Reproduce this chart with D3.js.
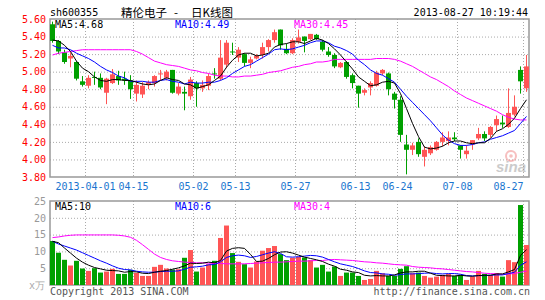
<!DOCTYPE html>
<html lang="zh">
<head>
<meta charset="UTF-8">
<title>精伦电子 - 日K线图</title>
<script src="https://cdn.jsdelivr.net/npm/d3@7"></script>
<style>
    body { margin: 0; background: #fff; }
    svg { display: block; font-family: "DejaVu Sans Mono", monospace; font-size: 10px; }
    .grid line { stroke: #aaa; stroke-dasharray: 1,2; }
    .cjk { font-family: "Noto Sans CJK SC", sans-serif; font-size: 11.5px; }
</style>
</head>
<body>
<svg width="545" height="300"></svg>
<script>
// daily candles, sh600355
const opens = [5.54,5.35,5.22,5.15,5.11,4.89,4.84,4.94,4.93,4.76,
    4.87,4.95,4.92,4.90,4.75,4.74,4.85,4.87,4.97,4.93,
    5.02,4.75,4.77,4.72,4.87,4.81,4.84,4.98,4.92,5.08,
    5.23,5.16,5.20,5.10,5.15,5.19,5.28,5.36,5.48,5.26,
    5.21,5.34,5.40,5.37,5.42,5.34,5.23,5.19,5.05,5.11,
    4.96,4.84,4.76,4.82,4.84,4.98,4.98,4.75,4.68,4.17,
    4.11,4.20,4.03,4.07,4.11,4.20,4.21,4.25,4.16,4.06,
    4.17,4.24,4.29,4.28,4.39,4.42,4.37,4.51,5.02,4.81];
const highs = [5.57,5.36,5.25,5.22,5.12,4.95,4.96,5.00,4.98,4.93,
    5.03,5.01,5.00,4.96,4.90,4.88,4.90,4.96,5.02,5.02,
    5.02,4.87,4.83,4.94,4.89,4.90,4.98,5.04,5.36,5.36,
    5.33,5.28,5.21,5.17,5.20,5.33,5.37,5.48,5.48,5.32,
    5.38,5.48,5.40,5.43,5.43,5.36,5.28,5.21,5.11,5.12,
    4.98,4.84,4.81,4.89,5.01,5.03,4.99,4.77,4.72,4.28,
    4.19,4.24,4.15,4.16,4.21,4.31,4.32,4.31,4.16,4.16,
    4.22,4.36,4.32,4.38,4.50,4.50,4.81,4.73,5.06,5.19];
const lows = [5.33,5.20,5.09,5.05,4.90,4.83,4.81,4.85,4.80,4.63,
    4.86,4.85,4.85,4.69,4.66,4.70,4.80,4.83,4.90,4.90,
    4.75,4.73,4.56,4.68,4.60,4.77,4.79,4.92,4.90,5.04,
    5.19,5.11,5.06,5.04,5.14,5.15,5.23,5.33,5.25,5.20,
    5.20,5.32,5.22,5.36,5.36,5.23,5.17,5.04,5.04,4.92,
    4.81,4.59,4.73,4.73,4.83,4.96,4.73,4.58,4.20,3.83,
    4.05,4.03,3.92,4.05,4.10,4.15,4.16,4.21,4.01,4.01,
    4.11,4.22,4.21,4.25,4.32,4.36,4.36,4.49,4.75,4.77];
const closes = [5.35,5.23,5.11,5.18,4.92,4.85,4.93,4.93,4.82,4.92,
    4.97,4.90,4.90,4.80,4.85,4.84,4.88,4.95,4.98,5.00,
    4.76,4.83,4.75,4.91,4.81,4.85,4.95,4.97,5.16,5.33,
    5.22,5.25,5.10,5.14,5.18,5.28,5.36,5.45,5.30,5.21,
    5.36,5.39,5.35,5.43,5.37,5.25,5.19,5.06,5.10,4.94,
    4.87,4.75,4.79,4.87,4.99,5.02,4.80,4.68,4.28,4.11,
    4.16,4.06,4.11,4.14,4.20,4.25,4.25,4.23,4.11,4.10,
    4.22,4.29,4.24,4.37,4.46,4.40,4.53,4.60,4.89,5.06];
// volume, 万手
const volumes = [13.1,9.6,7.5,5.8,7.2,4.9,4.2,5.0,3.7,4.0,
    4.8,3.3,3.3,4.5,3.6,2.7,2.7,5.4,6.0,4.9,
    4.6,4.7,8.1,10.4,4.0,5.2,6.2,7.2,14.0,17.7,
    9.5,6.9,6.2,5.2,7.0,10.2,11.0,11.6,9.2,7.4,
    8.1,8.4,8.2,7.4,5.2,6.0,4.0,5.5,2.7,3.7,
    3.7,2.7,1.5,1.8,4.2,3.5,2.7,2.7,4.8,5.6,
    3.5,3.7,2.7,2.2,2.5,3.0,3.3,2.7,3.0,1.5,
    2.5,4.2,3.3,3.0,3.5,2.5,7.4,6.8,23.8,11.9];

// moving average lines as drawn
const ma5 = [5.36,5.35,5.30,5.23,5.12,5.04,5.00,4.94,4.90,4.89,
    4.91,4.91,4.90,4.90,4.88,4.86,4.85,4.86,4.90,4.93,
    4.91,4.90,4.86,4.85,4.81,4.83,4.85,4.90,4.95,5.05,
    5.13,5.19,5.21,5.21,5.18,5.19,5.21,5.28,5.31,5.32,
    5.34,5.34,5.32,5.35,5.38,5.36,5.32,5.26,5.19,5.11,
    5.03,4.94,4.89,4.84,4.85,4.88,4.89,4.87,4.75,4.58,
    4.41,4.26,4.14,4.12,4.13,4.15,4.19,4.21,4.21,4.19,
    4.18,4.19,4.19,4.24,4.32,4.35,4.40,4.47,4.58,4.68];
const ma10 = [5.30,5.27,5.27,5.25,5.21,5.18,5.15,5.11,5.06,5.02,
    4.99,4.95,4.93,4.89,4.89,4.89,4.88,4.88,4.90,4.91,
    4.89,4.88,4.86,4.88,4.87,4.87,4.88,4.88,4.90,4.93,
    4.98,5.02,5.06,5.08,5.12,5.16,5.20,5.25,5.26,5.25,
    5.26,5.28,5.30,5.33,5.35,5.35,5.33,5.29,5.27,5.24,
    5.20,5.13,5.08,5.02,4.98,4.96,4.92,4.88,4.80,4.72,
    4.65,4.58,4.51,4.44,4.36,4.28,4.22,4.18,4.16,4.16,
    4.17,4.19,4.20,4.23,4.25,4.27,4.30,4.33,4.41,4.49];
const ma30 = [5.19,5.21,5.22,5.23,5.24,5.25,5.25,5.25,5.25,5.25,
    5.25,5.25,5.25,5.25,5.23,5.20,5.16,5.12,5.10,5.08,
    5.07,5.06,5.04,5.02,5.01,4.99,4.98,4.96,4.95,4.95,
    4.94,4.94,4.95,4.95,4.96,4.97,4.99,5.00,5.01,5.03,
    5.05,5.06,5.08,5.09,5.11,5.11,5.12,5.14,5.14,5.14,
    5.14,5.14,5.14,5.14,5.15,5.15,5.15,5.14,5.12,5.09,
    5.06,5.02,4.98,4.94,4.91,4.87,4.83,4.78,4.74,4.70,
    4.67,4.64,4.61,4.58,4.55,4.51,4.48,4.46,4.45,4.45];
const volMa5 = [13.0,12.6,11.0,9.5,8.0,6.8,5.9,5.2,4.8,4.4,
    4.3,4.2,3.8,4.0,3.9,3.5,3.4,3.8,4.1,4.3,
    4.7,5.1,5.7,6.5,6.4,6.5,6.8,6.6,7.3,10.1,
    10.9,11.1,10.9,9.1,7.0,7.1,7.9,9.0,9.8,9.9,
    9.5,8.9,8.3,7.9,7.5,7.0,6.2,5.6,4.7,4.4,
    3.9,3.7,2.9,2.7,2.8,2.7,2.7,3.0,3.6,3.9,
    3.9,4.1,4.1,3.5,2.9,2.8,2.7,2.7,2.9,2.7,
    2.6,2.8,2.9,2.9,3.3,3.3,3.9,4.6,8.8,10.5];
const volMa10 = [13.0,12.2,11.6,11.0,10.4,9.6,8.8,8.0,7.2,6.5,
    5.7,5.0,4.6,4.5,4.1,3.9,3.8,3.8,4.0,4.1,
    4.1,4.2,4.7,5.3,5.4,5.6,6.0,6.1,6.9,8.2,
    8.7,8.9,8.7,8.2,8.5,9.0,9.5,9.9,9.4,8.4,
    8.3,8.4,8.6,8.8,8.7,8.3,7.6,6.9,6.3,5.9,
    5.5,4.9,4.2,3.7,3.6,3.3,3.2,2.9,3.1,3.3,
    3.3,3.4,3.5,3.6,3.4,3.3,3.4,3.4,3.2,2.8,
    2.7,2.8,2.8,2.9,3.0,3.0,3.4,3.8,5.9,6.9];
const volMa30 = [14.1,14.3,14.6,14.8,14.9,14.9,14.9,14.9,14.9,14.9,
    14.9,14.8,14.6,14.2,13.3,12.0,10.6,9.2,8.2,7.6,
    7.2,7.0,6.8,6.7,6.6,6.6,6.5,6.4,6.4,6.3,
    6.3,6.3,6.3,6.4,6.5,6.6,6.7,6.8,6.8,6.9,
    7.0,7.1,7.1,7.2,7.3,7.3,7.5,7.6,7.5,7.4,
    7.3,7.1,6.9,6.8,6.6,6.5,6.3,6.1,6.0,5.9,
    5.5,5.3,5.2,5.1,4.9,4.8,4.6,4.4,4.2,4.0,
    3.9,3.7,3.5,3.4,3.3,3.2,3.3,3.4,3.8,4.1];

// x axis labels (candle index where the date starts)
const tickIdx = [6,14,24,31,41,51,58,68,79];
const tickText = ["2013-04-01","04-15","05-02","05-13","05-27","06-13","06-24","07-08","08-27"];
const priceTicks = [3.8,4.0,4.2,4.4,4.6,4.8,5.0,5.2,5.4,5.6];
const volTicks = [5,10,15,20,25];

const RED = "#ff5555", GREEN = "#00a000";
let svg = d3.select('svg');

// scales
let x = d3.scaleBand().domain(d3.range(closes.length)).range([50, 529]).paddingInner(1/6).paddingOuter(0);
let y = d3.scaleLinear().domain([3.8, 5.6]).range([177, 19]);
let vy = d3.scaleLinear().domain([0, 25]).range([285, 201]);
let bw = x.bandwidth();
let cx = i => x(i) + bw / 2;

// header
svg.append('text').attr('x', 50).attr('y', 16).text('sh600355');
svg.append('text').attr('class', 'cjk').attr('x', 121).attr('y', 17).text('精伦电子');
svg.append('text').attr('class', 'cjk').attr('x', 176).attr('y', 17).attr('text-anchor', 'middle').text('-');
svg.append('text').attr('class', 'cjk').attr('x', 191).attr('y', 17).text('日K线图');
svg.append('text').attr('x', 528).attr('y', 16).attr('text-anchor', 'end').text('2013-08-27 10:19:44');

// grids
function hGrid(scale, vals) {
    svg.append('g').attr('class', 'grid').attr('transform', 'translate(50,0)')
        .call(d3.axisLeft(scale).tickValues(vals).tickSize(-479).tickFormat(''))
        .call(g => g.select('.domain').remove());
}
hGrid(y, priceTicks.slice(1, -1));
hGrid(vy, volTicks.slice(0, -1));

let vg = svg.append('g').attr('class', 'grid');
[[19, 177], [201, 285]].forEach(([t, b]) => {
    vg.selectAll(null).data(tickIdx).enter().append('line')
        .attr('x1', i => x(i) - 0.5).attr('x2', i => x(i) - 0.5)
        .attr('y1', t).attr('y2', b);
});

// frames
svg.append('rect').attr('x', 50).attr('y', 19).attr('width', 479).attr('height', 158)
    .attr('fill', 'none').attr('stroke', '#999').attr('stroke-width', 1.5);
svg.append('rect').attr('x', 50).attr('y', 201).attr('width', 479).attr('height', 84)
    .attr('fill', 'none').attr('stroke', '#999').attr('stroke-width', 1.5);

// y labels
svg.append('g').attr('transform', 'translate(50,0)')
    .call(d3.axisLeft(y).tickValues(priceTicks).tickSize(0).tickPadding(4).tickFormat(d3.format('.2f')))
    .call(g => g.select('.domain').remove())
    .call(g => g.selectAll('text').attr('fill', '#f00').style('font-family', '"DejaVu Sans Mono", monospace'));
svg.append('g').attr('transform', 'translate(50,0)')
    .call(d3.axisLeft(vy).tickValues(volTicks).tickSize(0).tickPadding(4).tickFormat(d3.format('d')))
    .call(g => g.select('.domain').remove())
    .call(g => g.selectAll('text').attr('fill', '#999').style('font-family', '"DejaVu Sans Mono", monospace'));
svg.append('text').attr('x', 29).attr('y', 289).attr('fill', '#aaa').text('x万');

// x labels
svg.append('g').selectAll('text').data(tickIdx).enter().append('text')
    .attr('x', i => x(i) - 0.5).attr('y', 190)
    .attr('text-anchor', (d, k) => k === tickIdx.length - 1 ? 'end' : 'middle')
    .attr('fill', '#1a75cf')
    .text((d, k) => tickText[k]);

// sina watermark
let wm = svg.append('g').attr('opacity', 0.5);
wm.append('circle').attr('cx', 511).attr('cy', 156).attr('r', 5).attr('fill', 'none').attr('stroke', '#f08080').attr('stroke-width', 2);
wm.append('circle').attr('cx', 511).attr('cy', 156).attr('r', 1.8).attr('fill', '#f08080');
wm.append('text').attr('x', 496).attr('y', 172)
    .style('font-family', '"Liberation Sans", sans-serif').style('font-size', '15px')
    .style('font-weight', 'bold').style('font-style', 'italic').attr('fill', '#999').text('sina');

// candles
let color = i => closes[i] >= opens[i] ? RED : GREEN;
let idx = d3.range(closes.length);
let candles = svg.append('g').selectAll('g').data(idx).enter().append('g');
candles.append('line')
    .attr('x1', i => cx(i)).attr('x2', i => cx(i))
    .attr('y1', i => y(highs[i])).attr('y2', i => y(lows[i]))
    .attr('stroke', color);
candles.append('rect')
    .attr('x', i => x(i)).attr('width', bw)
    .attr('y', i => y(Math.max(opens[i], closes[i])))
    .attr('height', i => Math.max(1, Math.abs(y(opens[i]) - y(closes[i]))))
    .attr('fill', color);

// volume bars
svg.append('g').selectAll('rect').data(idx).enter().append('rect')
    .attr('x', i => x(i)).attr('width', bw)
    .attr('y', i => vy(volumes[i])).attr('height', i => vy(0) - vy(volumes[i]))
    .attr('fill', color);

// MA lines
function maLine(arr, scale, stroke) {
    svg.append('path').datum(idx)
        .attr('d', d3.line().x(i => cx(i)).y(i => scale(arr[i])))
        .attr('fill', 'none').attr('stroke', stroke).attr('stroke-width', 1);
}
maLine(ma30, y, '#f0f'); maLine(ma10, y, '#00f'); maLine(ma5, y, '#000');
maLine(volMa30, vy, '#f0f'); maLine(volMa10, vy, '#00f'); maLine(volMa5, vy, '#000');

// legends
function legend(yy, items) {
    items.forEach(([tx, lx, c]) => svg.append('text').attr('x', lx).attr('y', yy).attr('fill', c).text(tx));
}
legend(28, [['MA5:4.68', 55, '#000'], ['MA10:4.49', 175, '#00f'], ['MA30:4.45', 294, '#f0f']]);
legend(210, [['MA5:10', 55, '#000'], ['MA10:6', 175, '#00f'], ['MA30:4', 294, '#f0f']]);

// footer
svg.append('text').attr('x', 50).attr('y', 295).attr('fill', '#555').text('Copyright 2013 SINA.COM');
svg.append('text').attr('x', 530).attr('y', 295).attr('text-anchor', 'end').attr('fill', '#555').text('http://finance.sina.com.cn');
</script>
</body>
</html>
